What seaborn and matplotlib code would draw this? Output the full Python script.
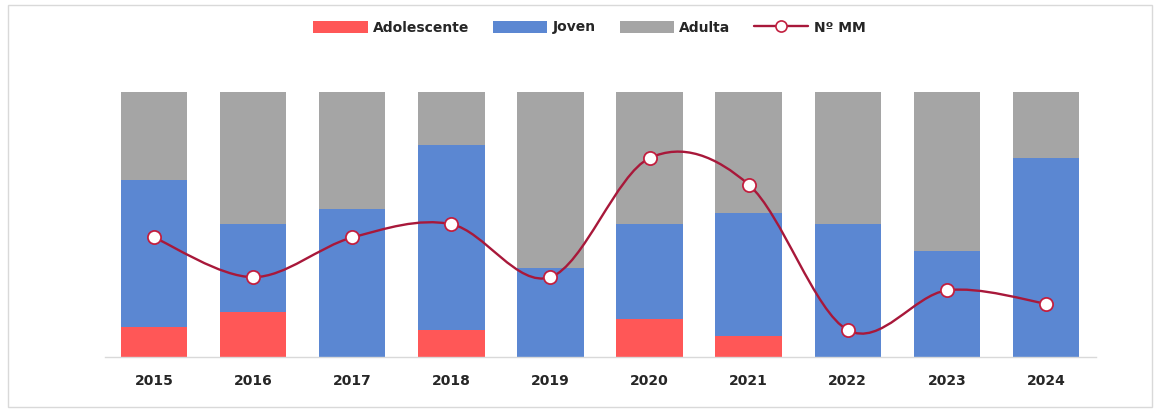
import numpy as np
import pandas as pd
import seaborn as sns
import matplotlib
matplotlib.use("Agg")
import matplotlib.pyplot as plt
from matplotlib.patches import Patch, Rectangle, PathPatch
from matplotlib.lines import Line2D
from matplotlib.path import Path

# Share of cases by age group (percent) and number of cases per year
years = ["2015", "2016", "2017", "2018", "2019", "2020", "2021", "2022", "2023", "2024"]
adolescente = [11.1, 16.7, 0.0, 10.0, 0.0, 14.3, 7.6, 0.0, 0.0, 0.0]
joven = [55.6, 33.3, 55.6, 70.0, 33.3, 35.7, 46.7, 50.0, 40.0, 75.0]
adulta = [33.3, 50.0, 44.4, 20.0, 66.7, 50.0, 45.7, 50.0, 60.0, 25.0]
num_mm = [9, 6, 9, 10, 6, 15, 13, 2, 5, 4]

RED = "#FF5757"
BLUE = "#5B87D2"
GRAY = "#A5A5A5"
LINE = "#A8183A"
EDGE = "#C21F3F"

sns.set_style("white")
plt.rcParams["font.family"] = ["DejaVu Sans"]

df = pd.DataFrame({
    "year": years,
    "adolescente": adolescente,
    "joven": joven,
    "adulta": adulta,
})
df["cum_joven"] = df["adolescente"] + df["joven"]
df["cum_all"] = df["cum_joven"] + df["adulta"]

fig = plt.figure(figsize=(11.55, 4.09), dpi=100)
ax = fig.add_axes([104.5 / 1155, 52.5 / 409, 991 / 1155, 264.5 / 409])

# Stacked bars drawn back to front from cumulative totals
bar_kw = dict(x="year", width=0.67, saturation=1, errorbar=None, ax=ax, linewidth=0)
sns.barplot(data=df, y="cum_all", color=GRAY, **bar_kw)
sns.barplot(data=df, y="cum_joven", color=BLUE, **bar_kw)
sns.barplot(data=df, y="adolescente", color=RED, **bar_kw)

ax.set_xlim(-0.5, 9.5)
ax.set_ylim(0, 100)
ax.set_xlabel("")
ax.set_ylabel("")
ax.set_yticks([])
for side in ("top", "left", "right"):
    ax.spines[side].set_visible(False)
ax.spines["bottom"].set_color("#D9D9D9")
ax.spines["bottom"].set_linewidth(1.0)
ax.tick_params(axis="x", length=0, pad=12.5, labelsize=10)
for lbl in ax.get_xticklabels():
    lbl.set_fontweight("bold")
    lbl.set_color("#262626")

# Secondary axis for the count line
ax2 = ax.twinx()
ax2.set_ylim(0, 20)
ax2.set_yticks([])
for side in ("top", "left", "right", "bottom"):
    ax2.spines[side].set_visible(False)

# Smoothed line through the yearly counts (Catmull-Rom as cubic Bezier)
xs = np.arange(len(num_mm), dtype=float)
ys = np.asarray(num_mm, dtype=float)
pts = np.column_stack([xs, ys])
ext = np.vstack([pts[0], pts, pts[-1]])
verts = [tuple(pts[0])]
codes = [Path.MOVETO]
for i in range(len(pts) - 1):
    p0, p1, p2, p3 = ext[i], ext[i + 1], ext[i + 2], ext[i + 3]
    c1 = p1 + (p2 - p0) / 6.0
    c2 = p2 - (p3 - p1) / 6.0
    verts += [tuple(c1), tuple(c2), tuple(p2)]
    codes += [Path.CURVE4, Path.CURVE4, Path.CURVE4]
ax2.add_patch(PathPatch(Path(verts, codes), facecolor="none", edgecolor=LINE,
                        linewidth=1.7, zorder=3))
ax2.plot(xs, ys, linestyle="none", marker="o", markersize=9.5,
         markerfacecolor="white", markeredgecolor=EDGE, markeredgewidth=1.3,
         zorder=4)

# Legend across the top
handles = [
    Patch(facecolor=RED, edgecolor="none"),
    Patch(facecolor=BLUE, edgecolor="none"),
    Patch(facecolor=GRAY, edgecolor="none"),
    Line2D([], [], color=LINE, linewidth=1.7, marker="o", markersize=8,
           markerfacecolor="white", markeredgecolor=EDGE, markeredgewidth=1.2),
]
labels = ["Adolescente", "Joven", "Adulta", "Nº MM"]
fig.legend(handles, labels, loc="center", bbox_to_anchor=(589.5 / 1155, 1 - 27.5 / 409),
           ncol=4, frameon=False, handlelength=3.9, handleheight=0.95,
           handletextpad=0.4, columnspacing=1.7,
           prop={"weight": "bold", "size": 10})

# Light frame around the chart area
fig.add_artist(Rectangle((8 / 1155, 2 / 409), 1144 / 1155, 402.5 / 409,
                         transform=fig.transFigure, fill=False,
                         edgecolor="#D9D9D9", linewidth=1.0))

fig.savefig("out.png", dpi=100)
